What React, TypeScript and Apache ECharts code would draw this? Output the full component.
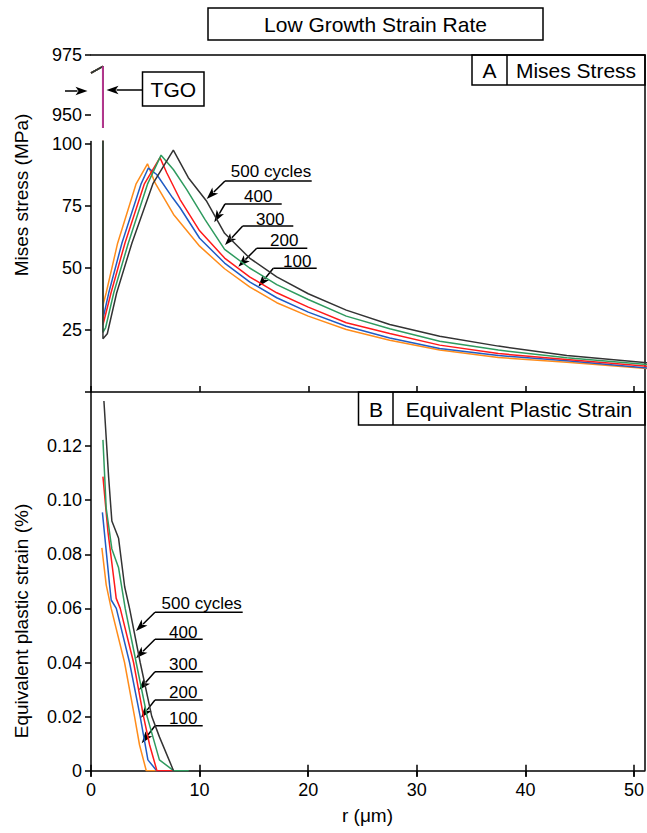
import React, { useEffect, useRef } from 'react';
import * as echarts from 'echarts';

// ---------- data ----------
const CYCLES = ['100', '200', '300', '400', '500'];
const COLORS = ['#ff8c1a', '#1f5cc4', '#ff1a1a', '#2f9b5f', '#333333'];

// TGO portion (r, stress) shared by all cycle curves
const TGO_R = [0, 1.1];
const TGO_STRESS = [967.5, 970.3];

// Mises stress in bond coat, [r (um), MPa]
const MISES_100 = [[1.1, 35], [1.4, 40], [2.45, 60], [4.14, 83.8], [5.2, 92], [5.9, 84.3], [7.6, 71.6], [10.0, 58.8], [12.3, 49.7], [14.6, 42.4], [17.1, 36], [20, 30.6], [23.5, 25.2], [27.5, 20.9], [32.1, 16.9], [37.5, 13.9], [43.8, 12.0], [51.2, 9.5]];
const MISES_200 = [[1.1, 29.5], [1.63, 39.9], [2.85, 60.1], [4.6, 83.8], [5.28, 90.3], [6.05, 87.7], [7.5, 78.4], [8.2, 74.3], [10.0, 62], [12.3, 52], [14.6, 44.4], [17.1, 38], [20, 32.2], [23.5, 26.5], [27.5, 21.8], [32.1, 17.5], [37.5, 14.7], [43.8, 12.6], [51.2, 9.7]];
const MISES_300 = [[1.1, 27], [1.84, 39.9], [3.13, 60.1], [4.9, 83.8], [6.35, 94.5], [6.97, 88.4], [8.2, 77.6], [10.0, 65], [12.3, 54], [14.6, 46.4], [17.1, 40], [20, 34.2], [23.5, 27.9], [27.5, 23.6], [32.1, 18.9], [37.5, 15.5], [43.8, 13.1], [51.2, 10.4]];
const MISES_400 = [[1.1, 24], [1.35, 26], [2.09, 39.9], [3.44, 60.1], [5.2, 83.8], [6.45, 95.5], [7.58, 89.7], [8.8, 81.7], [10.5, 69.5], [12.3, 57.5], [14.6, 50], [17.1, 43.3], [20, 37.3], [23.5, 30.6], [27.5, 25.5], [32.1, 20.5], [37.5, 16.9], [43.8, 13.8], [51.2, 11.1]];
const MISES_500 = [[1.1, 21.5], [1.5, 23.5], [2.36, 39.9], [3.77, 60.1], [5.7, 84], [7.58, 97.5], [8.96, 86.4], [10.65, 76.9], [12.3, 64], [14.6, 54], [17.1, 46.4], [20, 39.6], [23.5, 33], [27.5, 27.2], [32.1, 22.5], [37.5, 18.5], [43.8, 14.7], [51.2, 11.8]];

// Equivalent plastic strain (%), [r (um), value]
const PEEQ_100 = [[1.0, 0.0824], [1.4, 0.0687], [1.86, 0.06], [3.09, 0.04], [4.01, 0.02], [4.47, 0.0095], [5.09, 0], [6.1, 0]];
const PEEQ_200 = [[1.05, 0.0955], [1.71, 0.0687], [1.86, 0.0631], [2.33, 0.06], [3.55, 0.04], [4.53, 0.02], [5.24, 0.004], [6.05, 0], [7.6, 0]];
const PEEQ_300 = [[1.1, 0.1087], [1.56, 0.0884], [2.17, 0.0687], [2.32, 0.0637], [2.69, 0.06], [3.92, 0.04], [4.84, 0.02], [5.4, 0.0095], [6.07, 0], [7.6, 0]];
const PEEQ_400 = [[1.1, 0.1223], [1.4, 0.097], [1.92, 0.082], [2.54, 0.075], [3.15, 0.06], [4.16, 0.04], [5.17, 0.02], [6.3, 0.004], [7.6, 0], [9.0, 0]];
const PEEQ_500 = [[1.19, 0.1367], [1.62, 0.1087], [1.92, 0.0923], [2.54, 0.0859], [3.1, 0.068], [3.55, 0.06], [4.53, 0.04], [5.6, 0.02], [6.3, 0.0125], [7.6, 0]];

const MISES = [MISES_100, MISES_200, MISES_300, MISES_400, MISES_500];
const PEEQ = [PEEQ_100, PEEQ_200, PEEQ_300, PEEQ_400, PEEQ_500];

const X_TICKS = [0, 10, 20, 30, 40, 50];
const Y_TICKS_TOP = [950, 975];
const Y_TICKS_A = [25, 50, 75, 100];
const Y_TICKS_B = [0, 0.02, 0.04, 0.06, 0.08, 0.1, 0.12, 0.14];
const Y_LABELS_B = [0, 0.02, 0.04, 0.06, 0.08, 0.1, 0.12];

const TITLE = 'Low Growth Strain Rate';
const ANNOT_LABELS = ['500 cycles', '400', '300', '200', '100'];

// ---------- styles ----------
const FONT = '"Liberation Sans", Arial, Helvetica, sans-serif';
const AXIS_LINE = { show: true, lineStyle: { color: '#000', width: 1.5 } };
const TICK_STYLE = { color: '#000', width: 1.5 };
const LABEL = { color: '#000', fontSize: 18, fontFamily: FONT };

function arrow(x1: number, y1: number, x2: number, y2: number) {
  const dx = x2 - x1, dy = y2 - y1;
  const len = Math.hypot(dx, dy);
  const ux = dx / len, uy = dy / len;
  const hl = 12, hw = 4.2;
  const bx = x2 - ux * hl, by = y2 - uy * hl;
  return [
    { type: 'line', shape: { x1, y1, x2: bx + ux * 2, y2: by + uy * 2 }, style: { stroke: '#000', lineWidth: 1.5 } },
    { type: 'polygon', shape: { points: [[x2, y2], [bx - uy * hw, by + ux * hw], [bx + ux * 3, by + uy * 3], [bx + uy * hw, by - ux * hw]] }, style: { fill: '#000' } },
  ];
}

function annotation(label: string, tx: number, ty: number, ux1: number, ux2: number, uy: number, tipX: number, tipY: number) {
  return [
    { type: 'text', x: tx, y: ty, style: { text: label, align: 'center', verticalAlign: 'middle', fontSize: 17, fontFamily: FONT, fill: '#000' } },
    { type: 'line', shape: { x1: ux1, y1: uy, x2: ux2, y2: uy }, style: { stroke: '#000', lineWidth: 1.5 } },
    ...arrow(ux1, uy, tipX, tipY),
  ];
}

function boxText(x: number, y: number, text: string, size = 21) {
  return { type: 'text', x, y, style: { text, align: 'center', verticalAlign: 'middle', fontSize: size, fontFamily: FONT, fill: '#000' } };
}

export default function App() {
  const ref = useRef<HTMLDivElement>(null);
  useEffect(() => {
    document.body.style.margin = '0';
    if (!ref.current) return;
    const chart = echarts.init(ref.current, undefined, { renderer: 'svg' });

    const GL = 91, GW = 554;
    const series: any[] = [];
    MISES.forEach((m, i) => {
      const data = [[TGO_R[0], TGO_STRESS[0]], [TGO_R[1], TGO_STRESS[1]], ...m];
      const common = { type: 'line', symbol: 'none', animation: false, lineStyle: { color: COLORS[i], width: 1.5 }, itemStyle: { color: COLORS[i] }, clip: true, name: CYCLES[i] };
      series.push({ ...common, xAxisIndex: 0, yAxisIndex: 0, data });
      series.push({ ...common, xAxisIndex: 1, yAxisIndex: 1, data });
    });
    PEEQ.forEach((p, i) => {
      series.push({ type: 'line', symbol: 'none', name: CYCLES[i], xAxisIndex: 3, yAxisIndex: 2, data: p, clip: true, lineStyle: { color: COLORS[i], width: 1.5 }, itemStyle: { color: COLORS[i] } });
    });
    // TGO layer line (drawn magenta in the reference)
    series.push({ type: 'line', symbol: 'none', xAxisIndex: 0, yAxisIndex: 0, clip: true, data: [[TGO_R[1], TGO_STRESS[1]], [TGO_R[1], 940]], lineStyle: { color: '#b4368e', width: 2 } });

    const annotA = [
      [271, 171.7, 225, 311.7, 181, 206.7, 199],
      [258.3, 196.7, 225, 281.7, 204, 214.3, 222.3],
      [270.3, 219.3, 242.7, 293.3, 226, 225, 245],
      [284.3, 240, 256.7, 307.3, 248.3, 238.3, 266.7],
      [297.3, 261.7, 273.3, 316.7, 268.3, 258.3, 286.7],
    ];
    const annotB = [
      [201.7, 603.3, 155, 242.7, 612.3, 136, 631],
      [183.3, 632.3, 155, 202.7, 639.3, 136, 658.3],
      [183.3, 664.3, 155, 202.7, 671.7, 139, 690],
      [183.3, 692.7, 155, 202.7, 700, 141, 717.7],
      [183.3, 718.3, 155, 202.7, 725.7, 141.7, 743.3],
    ];
    const graphics: any[] = [];
    annotA.forEach((a, i) => graphics.push(...annotation(ANNOT_LABELS[i], a[0], a[1], a[2], a[3], a[4], a[5], a[6])));
    annotB.forEach((a, i) => graphics.push(...annotation(ANNOT_LABELS[i], a[0], a[1], a[2], a[3], a[4], a[5], a[6])));

    // title box
    graphics.push({ type: 'rect', shape: { x: 208, y: 8, width: 335, height: 32 }, style: { fill: '#fff', stroke: '#000', lineWidth: 1.5 } });
    graphics.push(boxText(375.5, 24.5, TITLE));
    // panel A label
    graphics.push({ type: 'rect', shape: { x: 472, y: 55, width: 173, height: 30 }, style: { fill: '#fff', stroke: '#000', lineWidth: 1.5 } });
    graphics.push({ type: 'line', shape: { x1: 507, y1: 55, x2: 507, y2: 85 }, style: { stroke: '#000', lineWidth: 1.5 } });
    graphics.push(boxText(489.5, 70.5, 'A'));
    graphics.push(boxText(576, 70.5, 'Mises Stress'));
    // panel B label
    graphics.push({ type: 'rect', shape: { x: 358.5, y: 392, width: 286.5, height: 33 }, style: { fill: '#fff', stroke: '#000', lineWidth: 1.5 } });
    graphics.push({ type: 'line', shape: { x1: 393, y1: 392, x2: 393, y2: 425 }, style: { stroke: '#000', lineWidth: 1.5 } });
    graphics.push(boxText(376, 409, 'B'));
    graphics.push(boxText(519, 409, 'Equivalent Plastic Strain'));
    // TGO label
    graphics.push({ type: 'rect', shape: { x: 142.5, y: 72, width: 61.5, height: 34 }, style: { fill: '#fff', stroke: '#000', lineWidth: 1.5 } });
    graphics.push(boxText(173.3, 89.5, 'TGO'));
    graphics.push(...arrow(142.5, 90, 106.5, 90));
    graphics.push(...arrow(65, 91, 87.5, 91));
    // right border
    graphics.push({ type: 'line', shape: { x1: GL + GW, y1: 55, x2: GL + GW, y2: 770.7 }, style: { stroke: '#000', lineWidth: 1.5 } });
    // axis names
    graphics.push({ type: 'text', x: 21, y: 195, rotation: Math.PI / 2, style: { text: 'Mises stress (MPa)', align: 'center', verticalAlign: 'middle', fontSize: 19, fontFamily: FONT, fill: '#000' } });
    graphics.push({ type: 'text', x: 21, y: 621, rotation: Math.PI / 2, style: { text: 'Equivalent plastic strain (%)', align: 'center', verticalAlign: 'middle', fontSize: 19, fontFamily: FONT, fill: '#000' } });
    graphics.push({ type: 'text', x: GL + GW / 2 - 0.5, y: 815, style: { text: 'r (μm)', align: 'center', verticalAlign: 'middle', fontSize: 19, fontFamily: FONT, fill: '#000' } });

    const hiddenX = { show: true, axisLine: { show: false }, axisLabel: { show: false }, splitLine: { show: false } };

    chart.setOption({
      animation: false,
      backgroundColor: '#fff',
      grid: [
        { left: GL, width: GW, top: 55, height: 72 },
        { left: GL, width: GW, top: 141.5, height: 250.5 },
        { left: GL, width: GW, top: 392, height: 378.7 },
      ],
      xAxis: [
        { gridIndex: 0, type: 'value', min: 0, max: 51, position: 'top', axisLine: AXIS_LINE, axisTick: { show: false }, axisLabel: { show: false }, splitLine: { show: false } },
        { gridIndex: 1, type: 'value', min: 0, max: 51, position: 'bottom', axisLine: AXIS_LINE, axisTick: { show: true, inside: true, length: 6, lineStyle: TICK_STYLE, customValues: X_TICKS }, axisLabel: { show: false }, splitLine: { show: false } },
        { gridIndex: 2, type: 'value', min: 0, max: 51, position: 'top', ...hiddenX, axisTick: { show: true, inside: true, length: 6, lineStyle: TICK_STYLE, customValues: X_TICKS } },
        { gridIndex: 2, type: 'value', min: 0, max: 51, position: 'bottom', axisLine: AXIS_LINE, axisTick: { show: true, length: 6, lineStyle: TICK_STYLE, customValues: X_TICKS }, axisLabel: { ...LABEL, margin: 10, customValues: X_TICKS }, splitLine: { show: false } },
        { gridIndex: 2, type: 'value', min: 0, max: 51, position: 'bottom', ...hiddenX, axisTick: { show: true, inside: true, length: 6, lineStyle: TICK_STYLE, customValues: X_TICKS } },
      ],
      yAxis: [
        { gridIndex: 0, type: 'value', min: 945, max: 975, axisLine: { show: false }, axisTick: { show: true, length: 6, lineStyle: TICK_STYLE, customValues: Y_TICKS_TOP }, axisLabel: { ...LABEL, margin: 9, customValues: Y_TICKS_TOP }, splitLine: { show: false } },
        { gridIndex: 1, type: 'value', min: 0, max: 101, axisLine: AXIS_LINE, axisTick: { show: true, length: 6, lineStyle: TICK_STYLE, customValues: Y_TICKS_A }, axisLabel: { ...LABEL, margin: 9, customValues: Y_TICKS_A }, splitLine: { show: false } },
        { gridIndex: 2, type: 'value', min: 0, max: 0.14, axisLine: AXIS_LINE, axisTick: { show: true, length: 6, lineStyle: TICK_STYLE, customValues: Y_TICKS_B }, axisLabel: { ...LABEL, margin: 9, customValues: Y_LABELS_B, formatter: (v: number) => (v === 0 ? '0' : v.toFixed(2)) }, splitLine: { show: false } },
      ],
      series,
      graphic: { elements: graphics },
    });
    return () => chart.dispose();
  }, []);
  return <div ref={ref} style={{ width: 647, height: 833 }} />;
}
